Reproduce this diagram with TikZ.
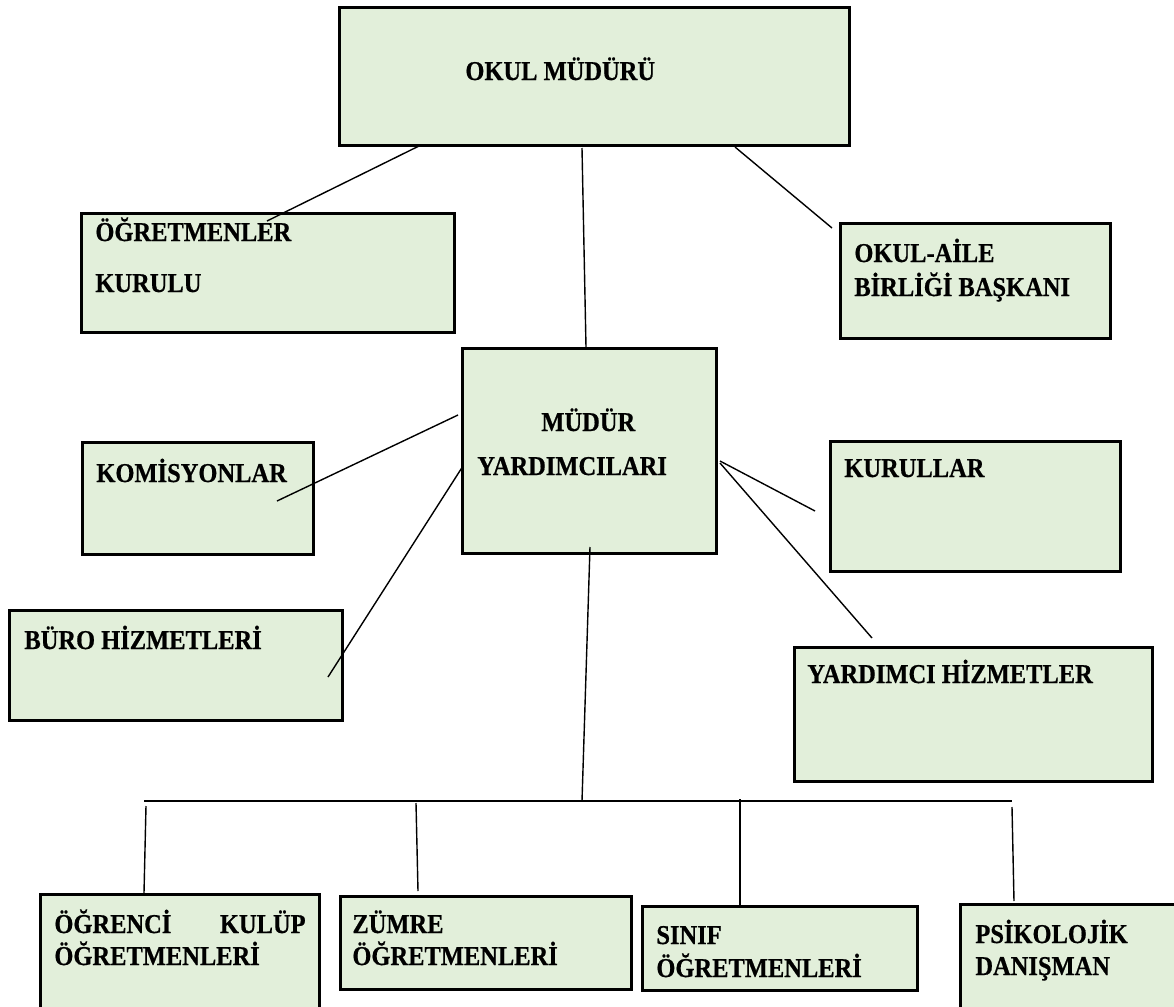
\documentclass[tikz,border=0pt]{standalone}
\usepackage{fontspec}
\setmainfont{Liberation Serif}[BoldFeatures={FakeStretch=0.9,FakeBold=0.6}]
\usepackage{tikz}
\usepackage{xcolor}
\definecolor{boxgreen}{RGB}{226,239,218}

\begin{document}
\begin{tikzpicture}[x=0.5pt,y=-0.5pt,
    box/.style={draw, line width=1.25pt, fill=boxgreen, anchor=north west, inner sep=0pt},
    lbl/.style={anchor=base west, inner sep=0pt, font=\bfseries\fontsize{13.6}{16}\selectfont},
    link/.style={line width=0.7pt}]
            \useasboundingbox (0,0) rectangle (1174,1007);
            \clip (0,0) rectangle (1174,1007);

            % Boxes
            \node[box, minimum width=255pt, minimum height=69pt] (okul) at (338,6) {};
            \node[box, minimum width=186.5pt, minimum height=59.5pt] (ogretmen) at (80,212) {};
            \node[box, minimum width=135pt, minimum height=57.5pt] (aile) at (839,222) {};
            \node[box, minimum width=127pt, minimum height=102.5pt] (mudyar) at (461,347) {};
            \node[box, minimum width=115.5pt, minimum height=56pt] (komisyon) at (81,441) {};
            \node[box, minimum width=145pt, minimum height=65pt] (kurul) at (829,440) {};
            \node[box, minimum width=166.5pt, minimum height=55pt] (buro) at (8,609) {};
            \node[box, minimum width=179pt, minimum height=67pt] (yardimci) at (793,646) {};
            \node[box, minimum width=139.5pt, minimum height=63.5pt] (ogrenci) at (39,893) {};
            \node[box, minimum width=145.5pt, minimum height=46.5pt] (zumre) at (339,895) {};
            \node[box, minimum width=137.5pt, minimum height=42pt] (sinif) at (641,905) {};
            \node[box, minimum width=115.5pt, minimum height=58.5pt] (psiko) at (959,903) {};

            % Texts
            \node[lbl] (okulA) at (465,80) {OKUL MÜDÜRÜ};
            \node[lbl] (ogretmenA) at (95,241) {ÖĞRETMENLER};
            \node[lbl] (ogretmenB) at (95,292) {KURULU};
            \node[lbl] (aileA) at (854,262) {OKUL-AİLE};
            \node[lbl] (aileB) at (854,296) {BİRLİĞİ BAŞKANI};
            \node[lbl] (mudyarA) at (541,431) {MÜDÜR};
            \node[lbl] (mudyarB) at (477,475) {YARDIMCILARI};
            \node[lbl] (komisyonA) at (96,482) {KOMİSYONLAR};
            \node[lbl] (kurulA) at (844,477) {KURULLAR};
            \node[lbl] (buroA) at (24,649) {BÜRO HİZMETLERİ};
            \node[lbl] (yardimciA) at (807,683) {YARDIMCI HİZMETLER};
            \node[lbl] (ogrenciA) at (54,933) {ÖĞRENCİ};
            \node[lbl, anchor=base east] (ogrenciB) at (306,933) {KULÜP};
            \node[lbl] (ogrenciC) at (54,965) {ÖĞRETMENLERİ};
            \node[lbl] (zumreA) at (352,933) {ZÜMRE};
            \node[lbl] (zumreB) at (352,965) {ÖĞRETMENLERİ};
            \node[lbl] (sinifA) at (656,944) {SINIF};
            \node[lbl] (sinifB) at (656,977) {ÖĞRETMENLERİ};
            \node[lbl] (psikoA) at (975,943) {PSİKOLOJİK};
            \node[lbl] (psikoB) at (975,975) {DANIŞMAN};

            % Line ends
            \coordinate (okulL) at (419,146);
            \coordinate (okulM) at (582,148);
            \coordinate (okulR) at (735,147);
            \coordinate (ogretmenT) at (267,221);
            \coordinate (mudyarT) at (586,347);
            \coordinate (aileT) at (832,228);
            \coordinate (mudyarL1) at (458,415);
            \coordinate (mudyarL2) at (463,466);
            \coordinate (mudyarR1) at (720,461);
            \coordinate (mudyarR2) at (720,463);
            \coordinate (mudyarB) at (590,547);
            \coordinate (komisyonT) at (277,501);
            \coordinate (buroT) at (328,677);
            \coordinate (kurulT) at (815,511);
            \coordinate (yardimciT) at (872,638);
            \coordinate (barL) at (144,801);
            \coordinate (barM) at (582,801);
            \coordinate (barR) at (1012,801);

            % Connectors
            \draw[link] (okulL) -- (ogretmenT);
            \draw[link] (okulM) -- (mudyarT);
            \draw[link] (okulR) -- (aileT);
            \draw[link] (mudyarL1) -- (komisyonT);
            \draw[link] (mudyarL2) -- (buroT);
            \draw[link] (mudyarR1) -- (kurulT);
            \draw[link] (mudyarR2) -- (yardimciT);
            \draw[link] (mudyarB) -- (barM);
            \draw[link] (barL) -- (barR);

            % Drops to the bottom row
            \draw[link] (146,806) -- (ogrenci.north -| 144,0);
            \draw[link] (416,803) -- (418,891);
            \draw[link] (740,799) -- (sinif.north -| 740,0);
            \draw[link] (1012,807) -- (1014,901);
        \end{tikzpicture}
\end{document}
